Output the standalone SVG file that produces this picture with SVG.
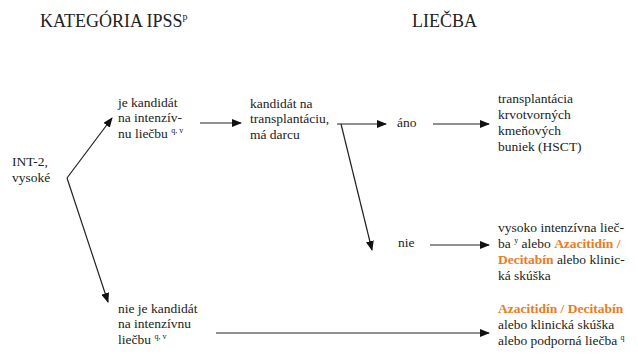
<svg xmlns="http://www.w3.org/2000/svg" width="638" height="358" viewBox="0 0 638 358">
<defs>
<marker id="ah" markerWidth="10" markerHeight="8" refX="9" refY="4" orient="auto" markerUnits="userSpaceOnUse">
<path d="M0,0 L10,4 L0,8 Z" fill="#111"/>
</marker>
</defs>
<style>
.o{fill:#ee7a22;font-weight:bold}
.c{fill:none;stroke:#222;stroke-width:1.2}
</style>
<rect width="638" height="358" fill="#fff"/>
<g id="title-left"><text font-family="Liberation Serif" font-size="18" fill="#222" x="40" y="27">KATEGÓRIA IPSS<tspan font-size="10" dy="-7">p</tspan></text></g>
<g id="title-right"><text font-family="Liberation Serif" font-size="18" fill="#222" x="412" y="27">LIEČBA</text></g>
<g id="int2"><text font-family="Liberation Serif" font-size="13.5" fill="#222" x="12" y="166">INT-2,</text><text font-family="Liberation Serif" font-size="13.5" fill="#222" x="12" y="182">vysoké</text></g>
<g id="candidate"><text font-family="Liberation Serif" font-size="13.5" fill="#222" x="118" y="107">je kandidát</text><text font-family="Liberation Serif" font-size="13.5" fill="#222" x="118" y="122">na intenzív-</text><text font-family="Liberation Serif" font-size="13.5" fill="#222" x="118" y="138">nu liečbu <tspan font-size="8" dy="-5">q, v</tspan></text></g>
<g id="transplant"><text font-family="Liberation Serif" font-size="13.5" fill="#222" x="250" y="108">kandidát na</text><text font-family="Liberation Serif" font-size="13.5" fill="#222" x="250" y="123">transplantáciu,</text><text font-family="Liberation Serif" font-size="13.5" fill="#222" x="250" y="139">má darcu</text></g>
<g id="ano"><text font-family="Liberation Serif" font-size="13.5" fill="#222" x="397" y="127">áno</text></g>
<g id="nie"><text font-family="Liberation Serif" font-size="13.5" fill="#222" x="398" y="247">nie</text></g>
<g id="hsct"><text font-family="Liberation Serif" font-size="13.5" fill="#222" x="498" y="103">transplantácia</text><text font-family="Liberation Serif" font-size="13.5" fill="#222" x="498" y="119">krvotvorných</text><text font-family="Liberation Serif" font-size="13.5" fill="#222" x="498" y="135">kmeňových</text><text font-family="Liberation Serif" font-size="13.5" fill="#222" x="498" y="151">buniek (HSCT)</text></g>
<g id="intensive"><text font-family="Liberation Serif" font-size="13.5" fill="#222" x="498" y="232">vysoko intenzívna lieč-</text><text font-family="Liberation Serif" font-size="13.5" fill="#222" x="498" y="248">ba <tspan font-size="8" dy="-5">y</tspan><tspan dy="5"> alebo </tspan><tspan class="o">Azacitidín /</tspan></text><text font-family="Liberation Serif" font-size="13.5" fill="#222" x="498" y="264"><tspan class="o">Decitabín</tspan> alebo klinic-</text><text font-family="Liberation Serif" font-size="13.5" fill="#222" x="498" y="280">ká skúška</text></g>
<g id="noncandidate"><text font-family="Liberation Serif" font-size="13.5" fill="#222" x="118" y="313">nie je kandidát</text><text font-family="Liberation Serif" font-size="13.5" fill="#222" x="118" y="328">na intenzívnu</text><text font-family="Liberation Serif" font-size="13.5" fill="#222" x="118" y="344">liečbu <tspan font-size="8" dy="-5">q, v</tspan></text></g>
<g id="support"><text font-family="Liberation Serif" font-size="13.5" class="o" x="498" y="313">Azacitidín / Decitabín</text><text font-family="Liberation Serif" font-size="13.5" fill="#222" x="498" y="329">alebo klinická skúška</text><text font-family="Liberation Serif" font-size="13.5" fill="#222" x="498" y="345">alebo podporná liečba <tspan font-size="8" dy="-5">q</tspan></text></g>
<g id="connectors">
<path class="c" d="M67,178 L112,118" marker-end="url(#ah)"/>
<path class="c" d="M67,178 L108,302" marker-end="url(#ah)"/>
<path class="c" d="M200,123 L241,123" marker-end="url(#ah)"/>
<path class="c" d="M337,124 L386,124" marker-end="url(#ah)"/>
<path class="c" d="M341,124 L372,250" marker-end="url(#ah)"/>
<path class="c" d="M433,124 L489,124" marker-end="url(#ah)"/>
<path class="c" d="M430,245 L489,245" marker-end="url(#ah)"/>
<path class="c" d="M216,333 L489,333" marker-end="url(#ah)"/>
</g>
</svg>
